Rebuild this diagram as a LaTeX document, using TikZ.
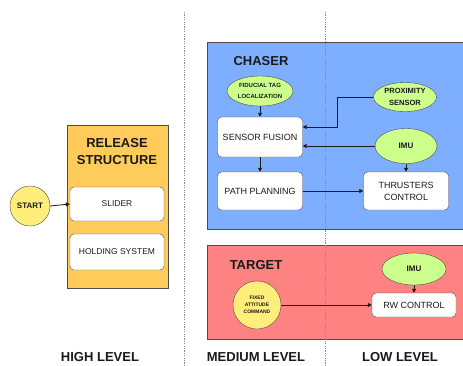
\documentclass[tikz,border=0pt]{standalone}
\usepackage{fontspec}
\setmainfont{Liberation Sans}
\usetikzlibrary{shapes.geometric,arrows.meta,positioning,calc}
\usepackage{xcolor}
\definecolor{ctInk}{HTML}{1A1A1A}
\definecolor{ctEdge}{HTML}{4D4D4D}
\definecolor{ctDots}{HTML}{8A8A8A}
\definecolor{ctChaser}{HTML}{7EAEFF}
\definecolor{ctTarget}{HTML}{FF8282}
\definecolor{ctRelease}{HTML}{FFCC5C}
\definecolor{ctLime}{HTML}{CCFF8C}
\definecolor{ctSun}{HTML}{FFEE7A}
\newcommand{\fs}[1]{\fontsize{#1}{#1}\selectfont}
\tikzset{
  zone/.style={draw=ctEdge, line width=0.8pt},
  lvl/.style={draw=ctDots, line width=0.9pt, dash pattern=on 1.2pt off 1.2pt},
  blk/.style={draw=ctEdge, fill=white, rounded corners=4pt, inner sep=0pt, font=\fs{9}, align=center, text=ctInk},
  sns/.style={ellipse, draw=ctEdge, fill=ctLime, inner sep=0pt, font=\bfseries, align=center, text=ctInk},
  cmd/.style={circle, draw=ctEdge, fill=ctSun, inner sep=0pt, font=\bfseries, align=center, text=ctInk},
  ttl/.style={font=\fs{13}\bfseries, text=ctInk, align=center},
  arr/.style={-{Triangle[length=4pt,width=4pt]}, line width=0.8pt, draw=ctInk},
}

\begin{document}
\begin{tikzpicture}[x=1pt, y=-1pt]
    \useasboundingbox (0,0) rectangle (463,365);
    % ---------- zones ----------
    \filldraw[zone, fill=ctRelease] (67,125) rectangle (168,288);
    \filldraw[zone, fill=ctChaser] (207,42) rectangle (475,229);
    \filldraw[zone, fill=ctTarget] (207,245) rectangle (475,339);
    % ---------- level dividers ----------
    \draw[lvl] (184,12) -- (184,365);
    \draw[lvl] (325,12) -- (325,365);
    % ---------- release structure ----------
    \node[ttl, font=\fontsize{13}{17}\selectfont\bfseries] (relT) at (117,152) {RELEASE\\STRUCTURE};
    \node[blk, font=\fs{8.5}, minimum width=94, minimum height=34] (slider) at (117,204) {SLIDER};
    \node[blk, font=\fs{8.5}, minimum width=94, minimum height=36] (hold) at (117,252) {HOLDING SYSTEM};
    \node[cmd, font=\fs{8}\bfseries, minimum size=40] (start) at (30,206) {START};
    \draw[arr] (start.east) -- (slider.west);
    % ---------- chaser ----------
    \node[ttl] (chT) at (261,61) {CHASER};
    \node[sns, font=\fs{6}\bfseries, minimum width=66, minimum height=30] (fid) at (260,91) {FIDUCIAL TAG\\[5pt]LOCALIZATION};
    \node[sns, font=\fs{7.5}\bfseries, minimum width=63, minimum height=29] (prox) at (405,97) {PROXIMITY\\[4pt]SENSOR};
    \node[blk, minimum width=85, minimum height=40] (fusion) at (260,137) {SENSOR FUSION};
    \node[sns, font=\fs{8}\bfseries, minimum width=62, minimum height=35] (imuC) at (406,146) {IMU};
    \node[blk, minimum width=85, minimum height=38] (path) at (260,191) {PATH PLANNING};
    \node[blk, minimum width=85, minimum height=38] (thrust) at (406,191) {THRUSTERS\\[3pt]CONTROL};
    \draw[arr] (fid.south) -- (fusion.north);
    \draw[arr] (prox.west) -- ++(-36,0) |- ($(fusion.east)+(0,-10)$);
    \draw[arr] (imuC.west) -- (imuC.west -| fusion.east);
    \draw[arr] (imuC.south) -- (thrust.north);
    \draw[arr] (fusion.south) -- (path.north);
    \draw[arr] (path.east) -- (thrust.west);
    % ---------- target ----------
    \node[ttl] (tgT) at (256,265) {TARGET};
    \node[sns, font=\fs{8}\bfseries, minimum width=64, minimum height=32] (imuT) at (414,269) {IMU};
    \node[blk, minimum width=84, minimum height=24] (rw) at (414,305) {RW CONTROL};
    \node[cmd, font=\fs{5}\bfseries, minimum size=48] (fixed) at (257,305) {FIXED\\[2pt]ATTITUDE\\[2pt]COMMAND};
    \draw[arr] (fixed.east) -- (rw.west);
    \draw[arr] (imuT.south) -- (rw.north);
    % ---------- level names ----------
    \node[ttl] (lvH) at (100,357) {HIGH LEVEL};
    \node[ttl] (lvM) at (256,357) {MEDIUM LEVEL};
    \node[ttl] (lvL) at (400,357) {LOW LEVEL};
\end{tikzpicture}
\end{document}
